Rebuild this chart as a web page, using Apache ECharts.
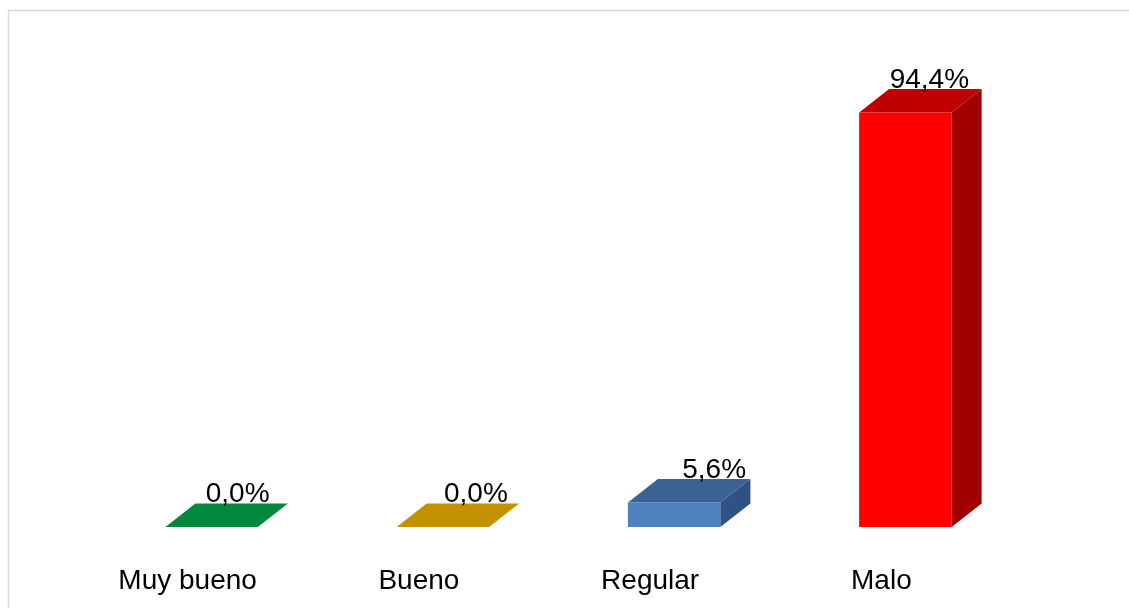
<!DOCTYPE html>
<html>
<head>
<meta charset="utf-8">
<script src="https://cdn.jsdelivr.net/npm/echarts@6/dist/echarts.min.js"></script>
<style>html,body{margin:0;padding:0;background:#fff;}#c{width:1129px;height:608px;}</style>
</head>
<body>
<div id="c"></div>
<script>
const categories = ['Muy bueno', 'Bueno', 'Regular', 'Malo'];
const values = [0.0, 0.0, 5.6, 94.4];
const valueLabels = ['0,0%', '0,0%', '5,6%', '94,4%'];

const faceColors = ['#00843D', '#C39300', '#4F81BD', '#FF0000'];
const topColors = ['#00883C', '#C49200', '#3C6294', '#C00000'];
const sideColors = ['#00602C', '#8F6C00', '#2F5283', '#A00000'];

const chart = echarts.init(document.getElementById('c'));
const DX = 30, DY = -23.5, SHIFT = 24;
const LABEL_SHIFTS = [26, 33, 40, 24];

chart.setOption({
  animation: false,
  graphic: [{
    type: 'rect', silent: true, z: -10,
    shape: { x: 8.5, y: 10.5, width: 1140, height: 620 },
    style: { fill: 'none', stroke: '#d9d9d9', lineWidth: 1.5 }
  }],
  grid: { left: 72, width: 925, top: 88, bottom: 81 },
  xAxis: {
    type: 'category', data: categories,
    axisLine: { show: false }, axisTick: { show: false },
    axisLabel: { fontSize: 28, color: '#000', fontFamily: 'Liberation Sans, Arial', margin: 40 }
  },
  yAxis: { type: 'value', min: 0, max: 100, show: false, splitLine: { show: false } },
  series: [{
    type: 'custom',
    data: values.map((v, i) => [i, v]),
    encode: { x: 0, y: 1 },
    renderItem: function (params, api) {
      const i = api.value(0);
      const top = api.coord([i, api.value(1)]);
      const base = api.coord([i, 0]);
      const band = api.size([1, 0])[0];
      const w = band * 0.4;
      const cx = top[0] + SHIFT;
      const xl = cx - w / 2, xr = cx + w / 2;
      const yt = top[1], yb = base[1];
      const children = [];
      if (yb - yt > 0.5) {
        children.push({ type: 'rect', shape: { x: xl, y: yt, width: w, height: yb - yt }, style: { fill: faceColors[i] } });
        children.push({ type: 'polygon', shape: { points: [[xr, yt], [xr + DX, yt + DY], [xr + DX, yb + DY], [xr, yb]] }, style: { fill: sideColors[i] } });
      }
      children.push({ type: 'polygon', shape: { points: [[xl, yt], [xr, yt], [xr + DX, yt + DY], [xl + DX, yt + DY]] }, style: { fill: topColors[i] } });
      children.push({ type: 'text', style: { text: valueLabels[i], x: cx + LABEL_SHIFTS[i], y: yt + DY + 5, align: 'center', verticalAlign: 'bottom', fontSize: 28, fontFamily: 'Liberation Sans, Arial', fill: '#000' } });
      return { type: 'group', children: children };
    }
  }]
});
</script>
</body>
</html>
